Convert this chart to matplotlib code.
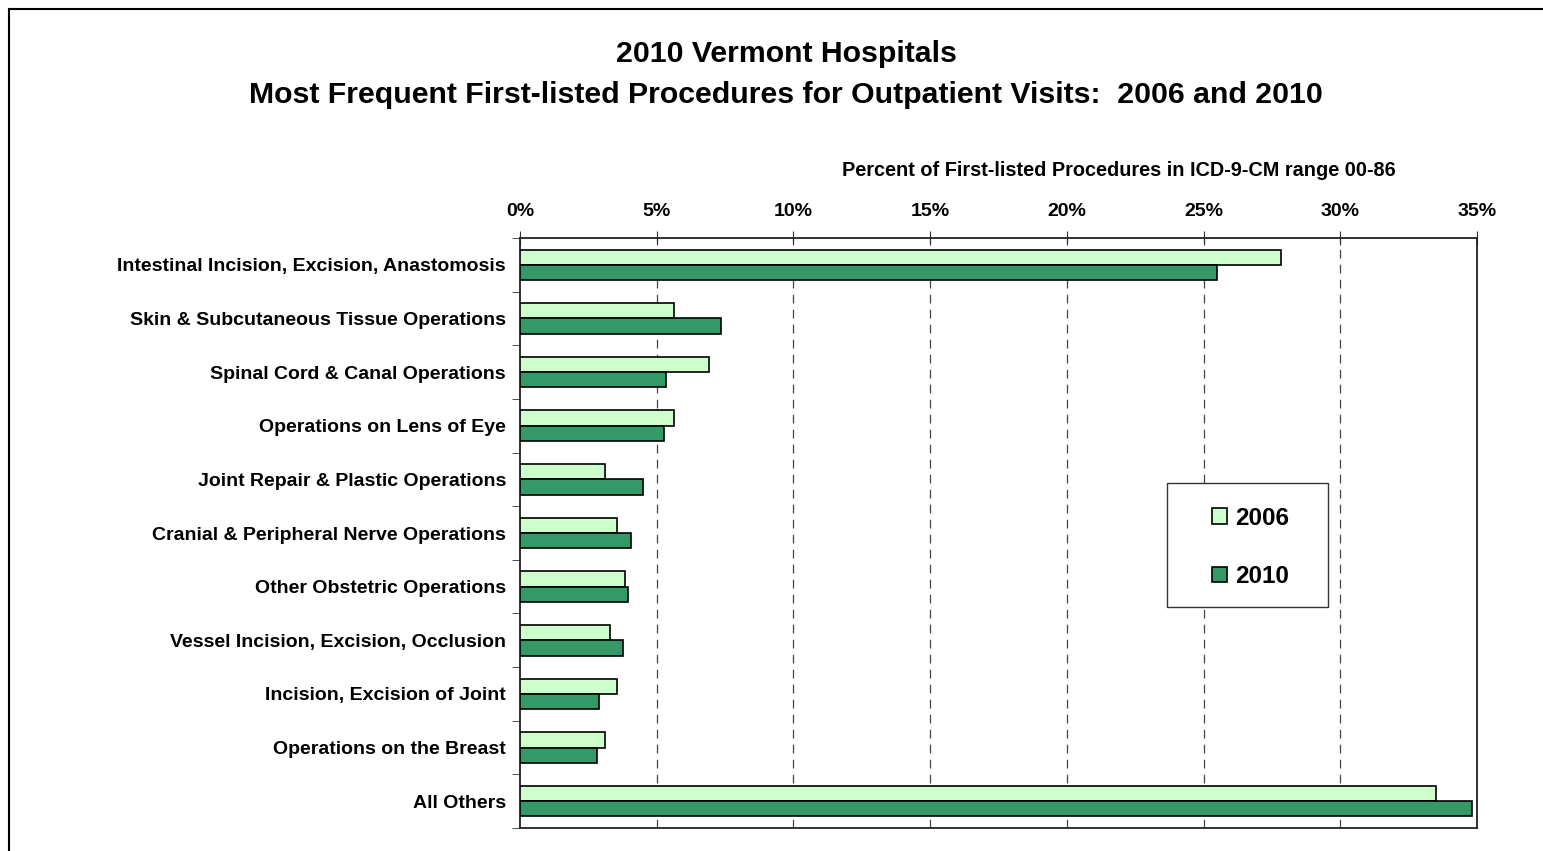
import matplotlib.pyplot as plt
import numpy as np
from matplotlib.lines import Line2D
from matplotlib.patches import Rectangle

plt.rcParams['font.family'] = ['Liberation Sans', 'DejaVu Sans']
plt.rcParams['font.weight'] = 'bold'

procedures = [
    "Intestinal Incision, Excision, Anastomosis",
    "Skin & Subcutaneous Tissue Operations",
    "Spinal Cord & Canal Operations",
    "Operations on Lens of Eye",
    "Joint Repair & Plastic Operations",
    "Cranial & Peripheral Nerve Operations",
    "Other Obstetric Operations",
    "Vessel Incision, Excision, Occlusion",
    "Incision, Excision of Joint",
    "Operations on the Breast",
    "All Others",
]
pct_2006 = [27.85, 5.65, 6.9, 5.65, 3.1, 3.55, 3.85, 3.3, 3.55, 3.1, 33.5]
pct_2010 = [25.5, 7.35, 5.35, 5.25, 4.5, 4.05, 3.95, 3.75, 2.9, 2.8, 34.8]
years = ["2006", "2010"]

W, H = 1543, 851
fig = plt.figure(figsize=(W / 100, H / 100), dpi=100)
ax = fig.add_axes([520 / W, 1 - 828 / H, 957 / W, 590 / H])

y = np.arange(len(procedures))
h = 0.285
ax.barh(y - h / 2, pct_2006, height=h, color="#CCFFCC", edgecolor="black",
        linewidth=1.2, label=years[0], zorder=3)
ax.barh(y + h / 2, pct_2010, height=h, color="#339966", edgecolor="black",
        linewidth=1.2, label=years[1], zorder=3)

ax.set_xlim(0, 35)
ax.set_ylim(len(procedures) - 0.5, -0.5)
ax.xaxis.tick_top()
ax.set_xticks(np.arange(0, 36, 5))
ax.set_xticklabels([f"{v}%" for v in range(0, 36, 5)], fontsize=14, fontweight="bold")
ax.tick_params(axis="x", direction="inout", length=10, pad=8, color="#333333")
for xv in range(5, 35, 5):
    ax.axvline(xv, color="#444444", linestyle=(0, (7, 5)), linewidth=0.9, zorder=1)

ax.set_yticks(y)
ax.set_yticklabels(procedures, fontsize=14, fontweight="bold")
ax.tick_params(axis="y", which="major", length=0, pad=10)
ax.set_yticks(np.arange(-0.5, len(procedures), 1), minor=True)
ax.tick_params(axis="y", which="minor", length=6, color="#333333")

for s in ax.spines.values():
    s.set_linewidth(1.3)
    s.set_color("#222222")

fig.text(1119 / W, 1 - 171 / H, "Percent of First-listed Procedures in ICD-9-CM range 00-86",
         ha="center", va="center", fontsize=14.3, fontweight="bold")
fig.text(786 / W, 1 - 54 / H, "2010 Vermont Hospitals",
         ha="center", va="center", fontsize=21.8, fontweight="bold")
fig.text(786 / W, 1 - 95 / H,
         "Most Frequent First-listed Procedures for Outpatient Visits:  2006 and 2010",
         ha="center", va="center", fontsize=21.8, fontweight="bold")

# legend box drawn separately so its padding matches the original
fig.add_artist(Rectangle((1167 / W, 1 - 607 / H), 161 / W, 124 / H, transform=fig.transFigure,
                         facecolor="white", edgecolor="#333333", linewidth=1.0, zorder=4))
leg = fig.legend(loc="center left", bbox_to_anchor=(1212 / W, 1 - 547.5 / H),
                 fontsize=17.5, frameon=False, handlelength=0.62, handleheight=0.62,
                 handletextpad=0.35, labelspacing=1.45, borderpad=0, borderaxespad=0)
leg.set_zorder(5)
for t in leg.get_texts():
    t.set_fontweight("bold")

# outer chart border (left and top visible)
fig.add_artist(Line2D([8.5 / W, 8.5 / W], [0, 1 - 9 / H], color="black", lw=1.5))
fig.add_artist(Line2D([8.5 / W, 1], [1 - 9 / H, 1 - 9 / H], color="black", lw=1.5))

fig.savefig("out.png", dpi=100)
